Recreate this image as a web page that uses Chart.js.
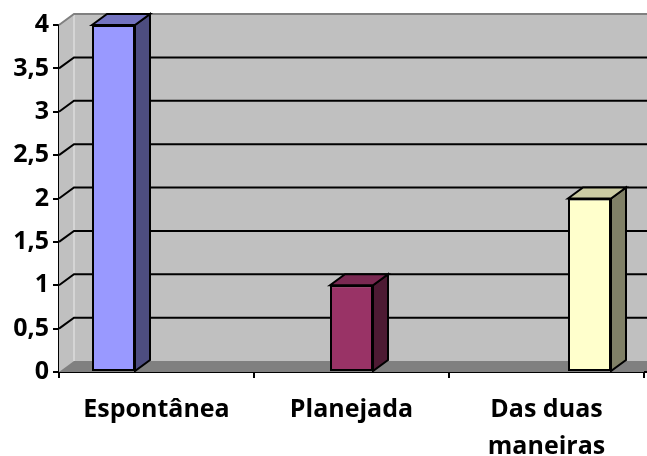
<!DOCTYPE html>
<html>
<head>
<meta charset="utf-8">
<script src="https://cdn.jsdelivr.net/npm/chart.js@4"></script>
<style>
  body { margin: 0; background: #fff; }
</style>
</head>
<body>
<canvas id="chart" width="647" height="456"></canvas>
<script>
// dados
const categories = ['Espontânea', 'Planejada', ['Das duas', 'maneiras']];
const seriesNames = ['Espontânea', 'Planejada', 'Das duas maneiras'];
const espontanea = [4, 0, 0];
const planejada = [0, 1, 0];
const dasDuas = [0, 0, 2];
const yTickValues = [0, 0.5, 1, 1.5, 2, 2.5, 3, 3.5, 4];
const yTickLabels = ['0', '0,5', '1', '1,5', '2', '2,5', '3', '3,5', '4'];

// cores estilo Excel 3D
const frontColors = ['#9999FF', '#993366', '#FFFFCC'];
const sideColors = ['#4D4D80', '#4D1A33', '#808066'];
const topColors = ['#7373C0', '#7A2952', '#CCCCA3'];
const DX = 15, DY = -11;
const FONT = 'Open Sans';

// 🧱 paredes, chão e linhas de grade
const wall3d = {
  id: 'wall3d',
  beforeDatasetsDraw(chart) {
    const { ctx, chartArea: a, scales: { y } } = chart;
    const W = chart.width;
    ctx.save();

    // parede lateral + fundo
    ctx.fillStyle = '#C0C0C0';
    ctx.beginPath();
    ctx.moveTo(a.left, a.top);
    ctx.lineTo(a.left + DX, a.top + DY);
    ctx.lineTo(W, a.top + DY);
    ctx.lineTo(W, a.bottom);
    ctx.lineTo(a.left, a.bottom);
    ctx.closePath();
    ctx.fill();

    // chão
    ctx.fillStyle = '#808080';
    ctx.beginPath();
    ctx.moveTo(a.left, a.bottom);
    ctx.lineTo(a.left + DX, a.bottom + DY);
    ctx.lineTo(W, a.bottom + DY);
    ctx.lineTo(W, a.bottom);
    ctx.closePath();
    ctx.fill();

    // canto da parede
    ctx.strokeStyle = '#DCDCDC';
    ctx.lineWidth = 1.5;
    ctx.beginPath();
    ctx.moveTo(a.left + DX, a.top + DY);
    ctx.lineTo(a.left + DX, a.bottom + DY);
    ctx.stroke();

    // grade
    yTickValues.forEach((v, i) => {
      if (v === 0) return;
      const py = y.getPixelForValue(v);
      ctx.strokeStyle = i === yTickValues.length - 1 ? '#808080' : '#000';
      ctx.lineWidth = 2;
      ctx.beginPath();
      ctx.moveTo(a.left, py);
      ctx.lineTo(a.left + DX, py + DY);
      ctx.lineTo(W, py + DY);
      ctx.stroke();
    });
    ctx.restore();
  },

  // 📦 lados e topo das barras
  afterDatasetsDraw(chart) {
    const { ctx } = chart;
    ctx.save();
    ctx.lineWidth = 2;
    ctx.strokeStyle = '#000';
    ctx.lineJoin = 'miter';
    chart.data.datasets.forEach((ds, i) => {
      const meta = chart.getDatasetMeta(i);
      meta.data.forEach((bar, j) => {
        if (!ds.data[j]) return;
        const p = bar.getProps(['x', 'y', 'base', 'width'], true);
        const l = p.x - p.width / 2, r = p.x + p.width / 2;
        const t = p.y, b = p.base;

        ctx.fillStyle = sideColors[i];
        ctx.beginPath();
        ctx.moveTo(r, t);
        ctx.lineTo(r + DX, t + DY);
        ctx.lineTo(r + DX, b + DY);
        ctx.lineTo(r, b);
        ctx.closePath();
        ctx.fill();
        ctx.stroke();

        ctx.fillStyle = topColors[i];
        ctx.beginPath();
        ctx.moveTo(l, t);
        ctx.lineTo(l + DX, t + DY);
        ctx.lineTo(r + DX, t + DY);
        ctx.lineTo(r, t);
        ctx.closePath();
        ctx.fill();
        ctx.stroke();
      });
    });
    ctx.restore();
  },

  afterDraw(chart) {
    const { ctx, chartArea: a } = chart;
    ctx.save();
    ctx.strokeStyle = '#000';
    ctx.lineWidth = 2;
    ctx.beginPath();
    ctx.moveTo(a.right, a.bottom);
    ctx.lineTo(chart.width, a.bottom);
    ctx.stroke();
    ctx.restore();
  }
};

const seriesData = [espontanea, planejada, dasDuas];

const chart = new Chart(document.getElementById('chart'), {
  type: 'bar',
  data: {
    labels: categories,
    datasets: seriesData.map((d, i) => ({
      label: seriesNames[i],
      data: d,
      backgroundColor: frontColors[i],
      borderColor: '#000',
      borderWidth: c => (c.raw ? 2 : 0),
      borderSkipped: false,
      categoryPercentage: 129 / 195,
      barPercentage: 1
    }))
  },
  options: {
    responsive: false,
    animation: false,
    layout: { padding: { top: 25, right: 3, left: 0, bottom: 0 } },
    plugins: { legend: { display: false }, tooltip: { enabled: false } },
    scales: {
      x: {
        grid: { drawOnChartArea: false, drawTicks: true, tickLength: 6, color: '#000', lineWidth: 2, offset: true },
        border: { display: true, color: '#000', width: 2 },
        ticks: {
          color: '#000',
          font: { family: FONT, size: 25, weight: 'bold', lineHeight: 1.5 },
          padding: 13,
          maxRotation: 0,
          autoSkip: false
        },
        afterFit(s) { s.height = 84; }
      },
      y: {
        min: 0,
        max: 4,
        grid: { drawOnChartArea: false, drawTicks: true, tickLength: 6, color: '#000', lineWidth: 2 },
        border: { display: true, color: '#000', width: 2 },
        ticks: {
          stepSize: 0.5,
          color: '#000',
          font: { family: FONT, size: 25, weight: 'bold' },
          padding: 4,
          callback: (v, i) => yTickLabels[i]
        },
        afterFit(s) { s.width = 59; }
      }
    }
  },
  plugins: [wall3d]
});
</script>
</body>
</html>
